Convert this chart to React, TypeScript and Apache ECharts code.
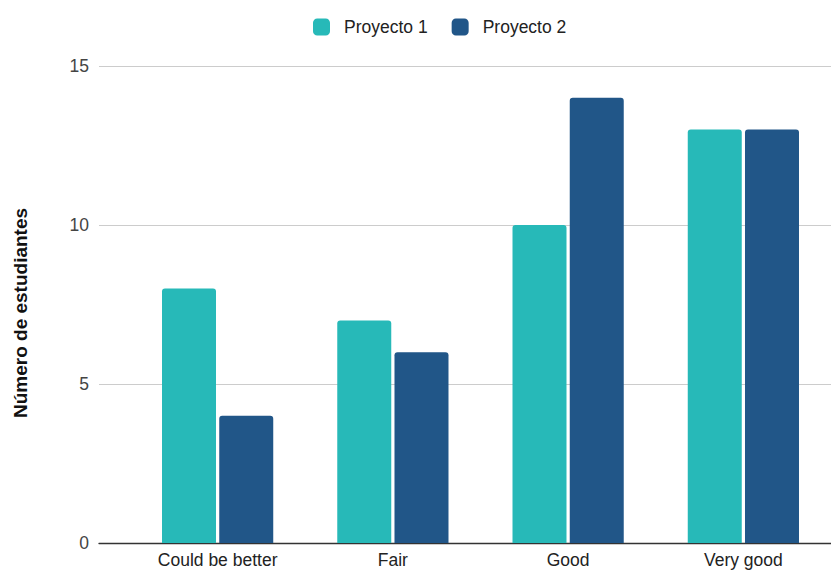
import React, { useEffect, useRef } from "react";
import * as echarts from "echarts";

const categories = ["Could be better", "Fair", "Good", "Very good"];
const proyecto1 = [8, 7, 10, 13];
const proyecto2 = [4, 6, 14, 13];
const yTicks = [0, 5, 10, 15];
const yTitle = "Número de estudiantes";

const TEAL = "#27b9b8";
const NAVY = "#215688";
const FONT = "'Liberation Sans', Arial, sans-serif";

export default function App() {
  const ref = useRef<HTMLDivElement>(null);
  useEffect(() => {
    if (!ref.current) return;
    const chart = echarts.init(ref.current, undefined, { renderer: "svg" });
    chart.setOption({
      animation: false,
      backgroundColor: "#ffffff",
      textStyle: { fontFamily: FONT },
      legend: {
        top: 13,
        left: 308,
        itemWidth: 17,
        itemHeight: 17,
        itemGap: 24,
        icon: "roundRect",
        textStyle: { fontSize: 17.5, color: "#222", fontFamily: FONT, padding: [0, 0, 0, 9] },
        data: ["Proyecto 1", "Proyecto 2"],
      },
      graphic: [
        {
          type: "text",
          x: 20,
          y: 313,
          rotation: Math.PI / 2,
          style: {
            text: yTitle,
            fontSize: 19,
            fontWeight: "bold",
            fill: "#111",
            fontFamily: FONT,
            align: "center",
            verticalAlign: "middle",
          },
        },
      ],
      grid: [
        { left: 99, right: 0, top: 66, bottom: 29, containLabel: false },
        { left: 130, width: 702, top: 66, bottom: 29, containLabel: false },
      ],
      xAxis: [
        {
          gridIndex: 0,
          type: "category",
          data: categories,
          axisLine: { show: true, lineStyle: { color: "#333", width: 1.3 } },
          axisTick: { show: false },
          axisLabel: { show: false },
          splitLine: { show: false },
        },
        {
          gridIndex: 1,
          type: "category",
          data: categories,
          axisLine: { show: false },
          axisTick: { show: false },
          axisLabel: { show: true, fontSize: 17.5, color: "#222", margin: 8, fontFamily: FONT },
        },
      ],
      yAxis: [
        {
          gridIndex: 0,
          type: "value",
          min: yTicks[0],
          max: yTicks[yTicks.length - 1],
          interval: 5,
          axisLine: { show: false },
          axisTick: { show: false },
          axisLabel: { fontSize: 17.5, color: "#444", margin: 10, fontFamily: FONT },
          splitLine: { show: true, lineStyle: { color: "#cccccc", width: 1 } },
        },
        {
          gridIndex: 1,
          type: "value",
          min: yTicks[0],
          max: yTicks[yTicks.length - 1],
          interval: 5,
          show: false,
          splitLine: { show: false },
        },
      ],
      series: [
        {
          name: "Proyecto 1",
          type: "bar",
          xAxisIndex: 1,
          yAxisIndex: 1,
          data: proyecto1,
          barWidth: 54,
          barGap: "6%",
          itemStyle: { color: TEAL, borderRadius: [3, 3, 0, 0] },
        },
        {
          name: "Proyecto 2",
          type: "bar",
          xAxisIndex: 1,
          yAxisIndex: 1,
          data: proyecto2,
          barWidth: 54,
          barGap: "6%",
          itemStyle: { color: NAVY, borderRadius: [3, 3, 0, 0] },
        },
      ],
    });
    return () => chart.dispose();
  }, []);
  return <div ref={ref} style={{ width: 831, height: 572, position: "absolute", left: 0, top: 0 }} />;
}
